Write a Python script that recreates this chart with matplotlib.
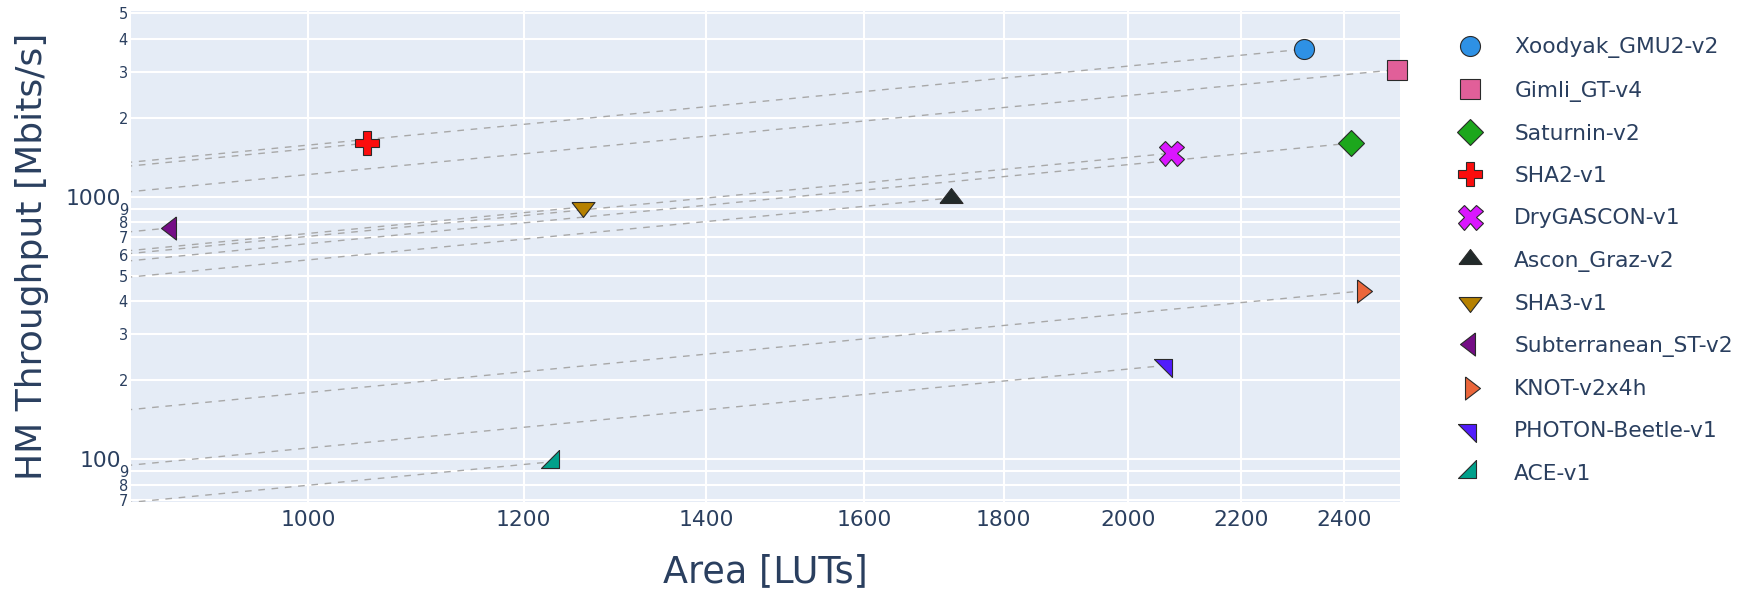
import matplotlib
matplotlib.use("Agg")
import matplotlib.pyplot as plt
from matplotlib.ticker import FixedLocator, FixedFormatter, NullLocator

plt.rcParams['font.family'] = ['DejaVu Sans']

names = ['Xoodyak_GMU2-v2', 'Gimli_GT-v4', 'Saturnin-v2', 'SHA2-v1', 'DryGASCON-v1',
         'Ascon_Graz-v2', 'SHA3-v1', 'Subterranean_ST-v2', 'KNOT-v2x4h',
         'PHOTON-Beetle-v1', 'ACE-v1']
area = [2320, 2510, 2413, 1051, 2073, 1722, 1262, 891, 2437, 2065, 1230]
throughput = [3650, 3050, 1600, 1600, 1465, 990, 915, 762, 438, 228, 98]
colors = ['#2E91E5', '#E15F99', '#1CA71C', '#FB0D0D', '#DA16FF', '#222A2A',
          '#B68100', '#750D86', '#EB663B', '#511CFB', '#00A08B']

x_ticks = [1000, 1200, 1400, 1600, 1800, 2000, 2200, 2400]
y_major = [100, 1000]
y_minor = [70, 80, 90, 200, 300, 400, 500, 600, 700, 800, 900, 2000, 3000, 4000, 5000]
y_minor_labels = ['7', '8', '9', '2', '3', '4', '5', '6', '7', '8', '9', '2', '3', '4', '5']

# plotly-like marker shapes (y up)
tri_up = [(-1.155, -0.5), (1.155, -0.5), (0, 1), (-1.155, -0.5)]
tri_down = [(-1.155, 0.5), (1.155, 0.5), (0, -1), (-1.155, 0.5)]
tri_left = [(0.5, 1.155), (0.5, -1.155), (-1, 0), (0.5, 1.155)]
tri_right = [(-0.5, 1.155), (-0.5, -1.155), (1, 0), (-0.5, 1.155)]
tri_ne = [(-1.2, 0.6), (0.6, 0.6), (0.6, -1.2), (-1.2, 0.6)]
tri_se = [(0.6, 1.2), (0.6, -0.6), (-1.2, -0.6), (0.6, 1.2)]
markers = ['o', 's', 'D', 'P', 'X', tri_up, tri_down, tri_left, tri_right, tri_ne, tri_se]
sizes = [14.4, 14.4, 13.2, 17.3, 18.0, 16.6, 16.6, 16.6, 16.6, 17.3, 17.3]

txt = '#2a3f5f'
xmin, xmax = 861, 2516
ymin, ymax = 68.8, 5100

fig = plt.figure(figsize=(17.49, 5.95), dpi=100)
ax = fig.add_axes([0.0748, 0.1563, 0.8005 - 0.0748, 0.9815 - 0.1563])
ax.set_facecolor('#E5ECF6')
ax.set_xscale('log')
ax.set_yscale('log')

# constant throughput/area reference lines
for i in range(len(names)):
    ratio = throughput[i] / area[i]
    ax.plot([xmin * 0.9, area[i]], [ratio * xmin * 0.9, throughput[i]],
            color='#a8a8a8', lw=1.0, dashes=(4.8, 4.8), zorder=2)

for i in range(len(names)):
    ax.plot(area[i], throughput[i], linestyle='none', marker=markers[i],
            markersize=sizes[i], markerfacecolor=colors[i], markeredgecolor='#2a2a2a',
            markeredgewidth=0.8, label=names[i], zorder=3, clip_on=False)

ax.set_xlim(xmin, xmax)
ax.set_ylim(ymin, ymax)

ax.xaxis.set_major_locator(FixedLocator(x_ticks))
ax.xaxis.set_major_formatter(FixedFormatter([str(v) for v in x_ticks]))
ax.xaxis.set_minor_locator(NullLocator())
ax.yaxis.set_major_locator(FixedLocator(y_major))
ax.yaxis.set_major_formatter(FixedFormatter([str(v) for v in y_major]))
ax.yaxis.set_minor_locator(FixedLocator(y_minor))
ax.yaxis.set_minor_formatter(FixedFormatter(y_minor_labels))

ax.tick_params(axis='x', which='major', length=0, pad=6, labelsize=15.7, labelcolor=txt)
ax.tick_params(axis='y', which='major', length=0, pad=7, labelsize=15.7, labelcolor=txt)
ax.tick_params(axis='y', which='minor', length=0, pad=2, labelsize=10.5, labelcolor=txt)

ax.grid(True, which='both', color='white', lw=1.5)
ax.set_axisbelow(True)
for s in ax.spines.values():
    s.set_visible(False)

ax.set_xlabel('Area [LUTs]', fontsize=26.3, color=txt, va='center')
ax.xaxis.set_label_coords(0.5, -0.1426)
ax.set_ylabel('HM Throughput [Mbits/s]', fontsize=26.0, color=txt, va='center')
ax.yaxis.set_label_coords(-0.0778, 0.5)

ax.legend(loc='upper left', bbox_to_anchor=(0.8309, 0.9373), bbox_transform=fig.transFigure,
          frameon=False, fontsize=15.7, labelcolor=txt, handlelength=1.5,
          handletextpad=1.3, labelspacing=1.02, borderpad=0, borderaxespad=0)

fig.savefig('out.png', dpi=100)
